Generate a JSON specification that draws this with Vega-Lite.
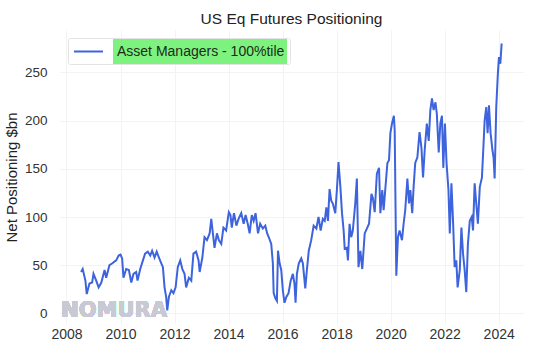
{
  "$schema": "https://vega.github.io/schema/vega-lite/v6.json",
  "width": 463,
  "height": 294,
  "autosize": {"type": "none"},
  "padding": {"left": 60, "top": 30, "right": 24, "bottom": 34},
  "background": "white",
  "config": {
    "view": {"stroke": null},
    "font": "Liberation Sans",
    "axis": {"domain": false, "ticks": false, "tickSize": 0, "grid": true, "gridColor": "#f3f3f3", "labelFont": "Liberation Sans", "labelFontSize": 13.5, "labelColor": "#333333", "titleFont": "Liberation Sans", "titleFontWeight": "normal", "titleColor": "#222222", "titleFontSize": 15}
  },
  "title": {"text": "US Eq Futures Positioning", "fontSize": 15.5, "fontWeight": "normal", "color": "#222222", "font": "Liberation Sans", "anchor": "middle", "offset": 3},
  "data": {"values": [
    {"t": 2008.54, "v": 43}, {"t": 2008.60, "v": 46}, {"t": 2008.70, "v": 34}, {"t": 2008.75, "v": 20}, {"t": 2008.85, "v": 31}, {"t": 2008.95, "v": 32}, {"t": 2009.00, "v": 41}, {"t": 2009.10, "v": 34}, {"t": 2009.19, "v": 27}, {"t": 2009.29, "v": 32}, {"t": 2009.41, "v": 45}, {"t": 2009.47, "v": 37}, {"t": 2009.59, "v": 50}, {"t": 2009.70, "v": 52}, {"t": 2009.84, "v": 55}, {"t": 2009.93, "v": 60}, {"t": 2010.00, "v": 61}, {"t": 2010.06, "v": 57}, {"t": 2010.11, "v": 37}, {"t": 2010.21, "v": 46}, {"t": 2010.31, "v": 45}, {"t": 2010.40, "v": 32}, {"t": 2010.48, "v": 41}, {"t": 2010.58, "v": 43}, {"t": 2010.63, "v": 34}, {"t": 2010.73, "v": 46}, {"t": 2010.83, "v": 55}, {"t": 2010.91, "v": 62}, {"t": 2011.01, "v": 64}, {"t": 2011.10, "v": 60}, {"t": 2011.17, "v": 65}, {"t": 2011.26, "v": 58}, {"t": 2011.34, "v": 64}, {"t": 2011.42, "v": 58}, {"t": 2011.51, "v": 52}, {"t": 2011.57, "v": 48}, {"t": 2011.63, "v": 27}, {"t": 2011.69, "v": 17}, {"t": 2011.73, "v": 3}, {"t": 2011.79, "v": 17}, {"t": 2011.88, "v": 24}, {"t": 2011.96, "v": 21}, {"t": 2012.04, "v": 27}, {"t": 2012.12, "v": 48}, {"t": 2012.21, "v": 55}, {"t": 2012.29, "v": 46}, {"t": 2012.37, "v": 41}, {"t": 2012.43, "v": 27}, {"t": 2012.53, "v": 37}, {"t": 2012.62, "v": 34}, {"t": 2012.70, "v": 62}, {"t": 2012.80, "v": 64}, {"t": 2012.89, "v": 55}, {"t": 2012.93, "v": 43}, {"t": 2013.03, "v": 58}, {"t": 2013.11, "v": 79}, {"t": 2013.20, "v": 76}, {"t": 2013.30, "v": 83}, {"t": 2013.36, "v": 98}, {"t": 2013.42, "v": 83}, {"t": 2013.48, "v": 68}, {"t": 2013.57, "v": 83}, {"t": 2013.64, "v": 76}, {"t": 2013.73, "v": 72}, {"t": 2013.81, "v": 89}, {"t": 2013.91, "v": 86}, {"t": 2014.01, "v": 105}, {"t": 2014.07, "v": 102}, {"t": 2014.12, "v": 89}, {"t": 2014.20, "v": 104}, {"t": 2014.29, "v": 91}, {"t": 2014.37, "v": 98}, {"t": 2014.47, "v": 104}, {"t": 2014.56, "v": 93}, {"t": 2014.63, "v": 102}, {"t": 2014.71, "v": 93}, {"t": 2014.78, "v": 83}, {"t": 2014.86, "v": 102}, {"t": 2014.93, "v": 96}, {"t": 2015.00, "v": 104}, {"t": 2015.09, "v": 83}, {"t": 2015.17, "v": 93}, {"t": 2015.27, "v": 88}, {"t": 2015.36, "v": 91}, {"t": 2015.43, "v": 83}, {"t": 2015.49, "v": 79}, {"t": 2015.58, "v": 72}, {"t": 2015.64, "v": 52}, {"t": 2015.67, "v": 21}, {"t": 2015.73, "v": 16}, {"t": 2015.79, "v": 13}, {"t": 2015.83, "v": 65}, {"t": 2015.89, "v": 52}, {"t": 2015.95, "v": 45}, {"t": 2016.01, "v": 24}, {"t": 2016.07, "v": 11}, {"t": 2016.14, "v": 17}, {"t": 2016.22, "v": 21}, {"t": 2016.30, "v": 34}, {"t": 2016.38, "v": 41}, {"t": 2016.44, "v": 31}, {"t": 2016.48, "v": 11}, {"t": 2016.53, "v": 41}, {"t": 2016.60, "v": 52}, {"t": 2016.69, "v": 57}, {"t": 2016.75, "v": 52}, {"t": 2016.84, "v": 26}, {"t": 2016.90, "v": 45}, {"t": 2016.97, "v": 65}, {"t": 2017.06, "v": 76}, {"t": 2017.15, "v": 91}, {"t": 2017.25, "v": 88}, {"t": 2017.33, "v": 100}, {"t": 2017.41, "v": 86}, {"t": 2017.49, "v": 98}, {"t": 2017.56, "v": 96}, {"t": 2017.62, "v": 110}, {"t": 2017.68, "v": 96}, {"t": 2017.74, "v": 129}, {"t": 2017.80, "v": 117}, {"t": 2017.86, "v": 114}, {"t": 2017.95, "v": 104}, {"t": 2018.01, "v": 128}, {"t": 2018.07, "v": 157}, {"t": 2018.14, "v": 131}, {"t": 2018.20, "v": 104}, {"t": 2018.26, "v": 86}, {"t": 2018.30, "v": 67}, {"t": 2018.38, "v": 68}, {"t": 2018.42, "v": 55}, {"t": 2018.48, "v": 93}, {"t": 2018.54, "v": 79}, {"t": 2018.60, "v": 86}, {"t": 2018.69, "v": 114}, {"t": 2018.75, "v": 140}, {"t": 2018.81, "v": 48}, {"t": 2018.88, "v": 65}, {"t": 2018.95, "v": 46}, {"t": 2019.04, "v": 83}, {"t": 2019.12, "v": 88}, {"t": 2019.20, "v": 93}, {"t": 2019.29, "v": 124}, {"t": 2019.34, "v": 120}, {"t": 2019.41, "v": 105}, {"t": 2019.49, "v": 145}, {"t": 2019.57, "v": 151}, {"t": 2019.62, "v": 104}, {"t": 2019.69, "v": 128}, {"t": 2019.74, "v": 107}, {"t": 2019.80, "v": 128}, {"t": 2019.88, "v": 156}, {"t": 2019.94, "v": 159}, {"t": 2019.99, "v": 187}, {"t": 2020.05, "v": 197}, {"t": 2020.12, "v": 205}, {"t": 2020.15, "v": 190}, {"t": 2020.21, "v": 39}, {"t": 2020.27, "v": 79}, {"t": 2020.33, "v": 86}, {"t": 2020.42, "v": 76}, {"t": 2020.48, "v": 93}, {"t": 2020.54, "v": 107}, {"t": 2020.62, "v": 140}, {"t": 2020.68, "v": 114}, {"t": 2020.73, "v": 128}, {"t": 2020.80, "v": 104}, {"t": 2020.85, "v": 131}, {"t": 2020.91, "v": 156}, {"t": 2020.99, "v": 162}, {"t": 2021.07, "v": 188}, {"t": 2021.14, "v": 172}, {"t": 2021.20, "v": 141}, {"t": 2021.26, "v": 169}, {"t": 2021.34, "v": 197}, {"t": 2021.41, "v": 179}, {"t": 2021.47, "v": 211}, {"t": 2021.53, "v": 223}, {"t": 2021.59, "v": 211}, {"t": 2021.66, "v": 219}, {"t": 2021.71, "v": 207}, {"t": 2021.78, "v": 167}, {"t": 2021.84, "v": 197}, {"t": 2021.90, "v": 205}, {"t": 2021.95, "v": 151}, {"t": 2022.01, "v": 197}, {"t": 2022.07, "v": 156}, {"t": 2022.14, "v": 128}, {"t": 2022.19, "v": 83}, {"t": 2022.25, "v": 135}, {"t": 2022.31, "v": 96}, {"t": 2022.37, "v": 48}, {"t": 2022.43, "v": 55}, {"t": 2022.48, "v": 27}, {"t": 2022.56, "v": 45}, {"t": 2022.62, "v": 89}, {"t": 2022.68, "v": 62}, {"t": 2022.74, "v": 45}, {"t": 2022.80, "v": 22}, {"t": 2022.86, "v": 72}, {"t": 2022.93, "v": 96}, {"t": 2023.00, "v": 100}, {"t": 2023.05, "v": 86}, {"t": 2023.11, "v": 135}, {"t": 2023.17, "v": 114}, {"t": 2023.23, "v": 93}, {"t": 2023.30, "v": 131}, {"t": 2023.38, "v": 141}, {"t": 2023.44, "v": 176}, {"t": 2023.48, "v": 200}, {"t": 2023.54, "v": 214}, {"t": 2023.59, "v": 187}, {"t": 2023.64, "v": 216}, {"t": 2023.70, "v": 187}, {"t": 2023.77, "v": 169}, {"t": 2023.81, "v": 162}, {"t": 2023.85, "v": 140}, {"t": 2023.91, "v": 214}, {"t": 2023.97, "v": 249}, {"t": 2024.01, "v": 266}, {"t": 2024.06, "v": 259}, {"t": 2024.11, "v": 280}
  ]},
  "transform": [{"calculate": "'Asset Managers - 100%tile'", "as": "series"}],
  "layer": [
    {
      "mark": {"type": "text", "text": "NOMURA", "align": "left", "baseline": "alphabetic", "font": "DejaVu Sans", "fontWeight": "bold", "fontSize": 21, "color": "#c9c9d4"},
      "encoding": {"x": {"datum": 2007.8, "type": "quantitative"}, "y": {"datum": -4, "type": "quantitative"}}
    },
    {
      "mark": {"type": "line", "strokeWidth": 2, "interpolate": "linear"},
      "encoding": {
        "x": {"field": "t", "type": "quantitative", "scale": {"domain": [2007.76, 2024.9], "nice": false, "zero": false}, "axis": {"values": [2008, 2010, 2012, 2014, 2016, 2018, 2020, 2022, 2024], "format": "d", "title": null, "labelPadding": 3, "labelFontSize": 14}},
        "y": {"field": "v", "type": "quantitative", "scale": {"domain": [-11, 294], "nice": false, "zero": false}, "axis": {"values": [0, 50, 100, 150, 200, 250], "title": "Net Positioning $bn", "labelPadding": 13, "titlePadding": 5}},
        "color": {"field": "series", "type": "nominal", "scale": {"range": ["#3d63dd"]}, "legend": {
          "title": null, "orient": "none", "legendX": 8, "legendY": 8,
          "symbolType": "M-2,0H2", "symbolSize": 210, "symbolStrokeWidth": 2, "symbolOffset": 7,
          "labelFont": "Liberation Sans", "labelFontSize": 14, "labelColor": "#1b2b1b", "labelOffset": 20, "labelLimit": 400,
          "padding": 5, "strokeColor": "#e3e3e3", "cornerRadius": 2,
          "encoding": {"legend": {"fill": {"value": {"gradient": "linear", "x1": 0, "y1": 0, "x2": 1, "y2": 0, "stops": [{"offset": 0, "color": "#ffffff"}, {"offset": 0.2, "color": "#ffffff"}, {"offset": 0.2, "color": "#7ef27e"}, {"offset": 0.985, "color": "#7ef27e"}, {"offset": 0.985, "color": "#ffffff"}, {"offset": 1, "color": "#ffffff"}]}}}}
        }}
      }
    }
  ]
}
